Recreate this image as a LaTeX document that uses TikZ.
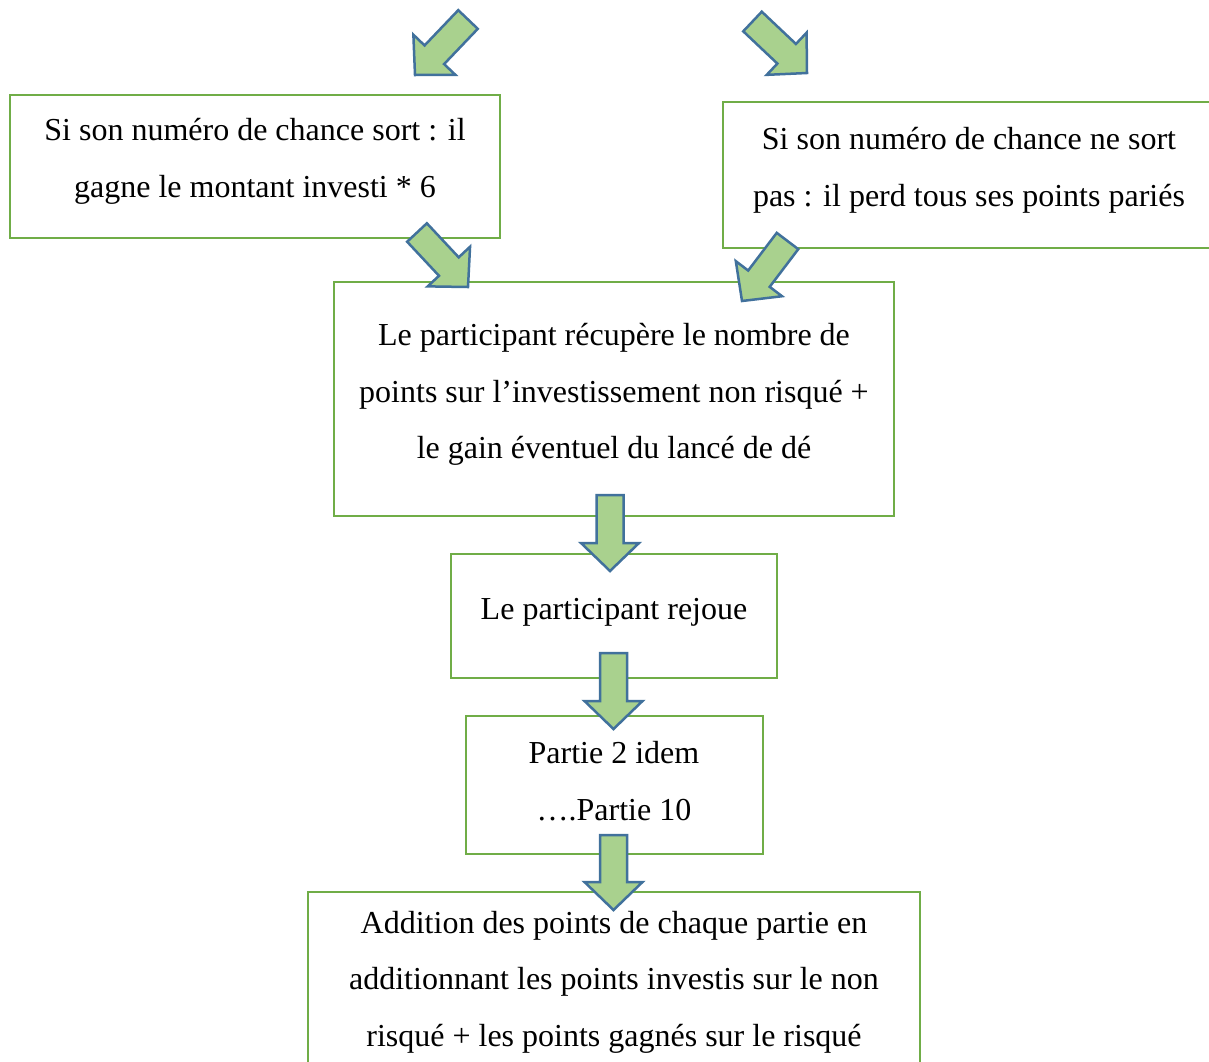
\documentclass[tikz,border=0pt]{standalone}
\usepackage{fontspec}
\setmainfont{Liberation Serif}
\usetikzlibrary{calc}
\definecolor{boxgreen}{HTML}{70AD47}
\definecolor{arrfill}{HTML}{A9D18E}
\definecolor{arrline}{HTML}{41719C}
\tikzset{
  box/.style={draw=boxgreen, line width=2.4pt, inner sep=0pt, rectangle},
  txt/.style={align=center, inner sep=0pt, font=\fontsize{32}{56.5}\selectfont},
  barr/.style={fill=arrfill, draw=arrline, line width=2.5pt, line join=miter}
}
\newcommand{\blockarrow}[3]{%
  \coordinate (#1a) at #2;
  \coordinate (#1t) at #3;
  \coordinate (#1h) at ($(#1t)!28pt!(#1a)$);
  \draw[barr] ($(#1a)!13.5pt!90:(#1t)$) -- ($(#1h)!13.5pt!90:(#1t)$)
    -- ($(#1h)!29pt!90:(#1t)$) -- (#1t) -- ($(#1h)!29pt!-90:(#1t)$)
    -- ($(#1h)!13.5pt!-90:(#1t)$) -- ($(#1a)!13.5pt!-90:(#1t)$) -- cycle;
}
\begin{document}
\begin{tikzpicture}[x=1pt,y=-1pt]
\clip (0,0) rectangle (1209,1061);
\fill[white] (0,0) rectangle (1209,1061);
% boxes
\node[box, minimum width=490pt, minimum height=143pt] (b1) at (255,166.5) {};
\node[box, minimum width=492pt, minimum height=146pt] (b2) at (969,175) {};
\node[box, minimum width=560pt, minimum height=234pt] (b3) at (614,399) {};
\node[box, minimum width=326pt, minimum height=124pt] (b4) at (614,616) {};
\node[box, minimum width=297pt, minimum height=138pt] (b5) at (614.5,785) {};
\node[box, minimum width=612pt, minimum height=183pt] (b6) at (614,983.5) {};
% texts
\node[txt] (t1) at (255,161.5) {Si son numéro de chance sort : il\\gagne le montant investi * 6};
\node[txt] (t2) at (969,170.5) {Si son numéro de chance ne sort\\pas : il perd tous ses points pariés};
\node[txt] (t3) at (614,394.5) {Le participant récupère le nombre de\\points sur l’investissement non risqué +\\le gain éventuel du lancé de dé};
\node[txt] (t4) at (614,612) {Le participant rejoue};
\node[txt] (t5) at (614,781) {Partie 2 idem\\….Partie 10};
\node[txt] (t6) at (614,982) {Addition des points de chaque partie en\\additionnant les points investis sur le non\\risqué + les points gagnés sur le risqué};
% block arrows
\blockarrow{tl}{(468,19.5)}{(415,75)}
\blockarrow{tr}{(752.5,21.5)}{(807,73)}
\blockarrow{ml}{(417,232.5)}{(468,287)}
\blockarrow{mr}{(787.5,241)}{(742,301)}
\blockarrow{va}{(610,495)}{(610,571)}
\blockarrow{vb}{(613.5,653)}{(613.5,729)}
\blockarrow{vc}{(613.5,835)}{(613.5,910)}
\end{tikzpicture}
\end{document}
